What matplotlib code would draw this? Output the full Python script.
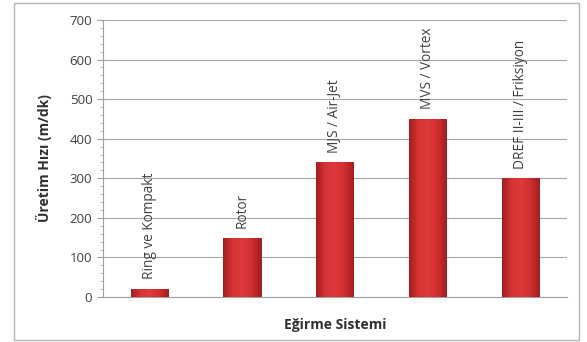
import matplotlib
matplotlib.use('Agg')
import matplotlib.pyplot as plt
from matplotlib.patches import Rectangle
from matplotlib.colors import LinearSegmentedColormap
from matplotlib.ticker import MultipleLocator
import numpy as np

systems = ['Ring ve Kompakt', 'Rotor', 'MJS / Air-Jet', 'MVS / Vortex', 'DREF II-III / Friksiyon']
speeds = [20, 150, 340, 450, 300]

plt.rcParams['font.family'] = ['Open Sans', 'DejaVu Sans']

fig = plt.figure(figsize=(5.87, 3.42), dpi=100)
ax = fig.add_axes([0.175, 0.1316, 0.791, 0.81])

# outer chart border
fig.patches.append(Rectangle((0.024, 0.006), 0.963, 0.985, transform=fig.transFigure,
                             fill=False, edgecolor='#b5b5b5', linewidth=1.0))

x = np.arange(len(systems))
bars = ax.bar(x, speeds, width=0.4, color='#c8292b', edgecolor='#8e1c1c', linewidth=0.6, zorder=3)

# soft horizontal shading inside each bar
shade = LinearSegmentedColormap.from_list('shade', ['#a41e20', '#d63335', '#de3a3c', '#d02e30', '#a41e20'])
grad = np.linspace(0, 1, 64).reshape(1, -1)
for b in bars:
    im = ax.imshow(grad, cmap=shade, aspect='auto', zorder=3.5,
                   extent=(b.get_x(), b.get_x() + b.get_width(), 0, b.get_height()))
    im.set_clip_path(b)

for xi, v, name in zip(x, speeds, systems):
    ax.annotate(name, (xi, v), xytext=(0, 7), textcoords='offset points',
                rotation=90, ha='center', va='bottom', fontsize=9.8, color='#404040')

ax.set_xlim(-0.5, len(systems) - 0.5)
ax.set_ylim(0, 700)
ax.yaxis.set_major_locator(MultipleLocator(100))
ax.yaxis.set_minor_locator(MultipleLocator(20))
ax.set_xticks([])
ax.grid(axis='y', color='#a8a8a8', linewidth=0.8, zorder=0)
ax.tick_params(axis='y', which='major', labelsize=9.5, labelcolor='#404040', color='#a0a0a0', length=4)
ax.tick_params(axis='y', which='minor', color='#a0a0a0', length=2)

for side in ['top', 'right']:
    ax.spines[side].set_visible(False)
for side in ['left', 'bottom']:
    ax.spines[side].set_color('#a0a0a0')

ax.set_ylabel('Üretim Hızı (m/dk)', fontsize=10, fontweight='bold', color='#303030', labelpad=13)
ax.set_xlabel('Eğirme Sistemi', fontsize=10, fontweight='bold', color='#303030', labelpad=15)

fig.savefig('out.png', dpi=100)
